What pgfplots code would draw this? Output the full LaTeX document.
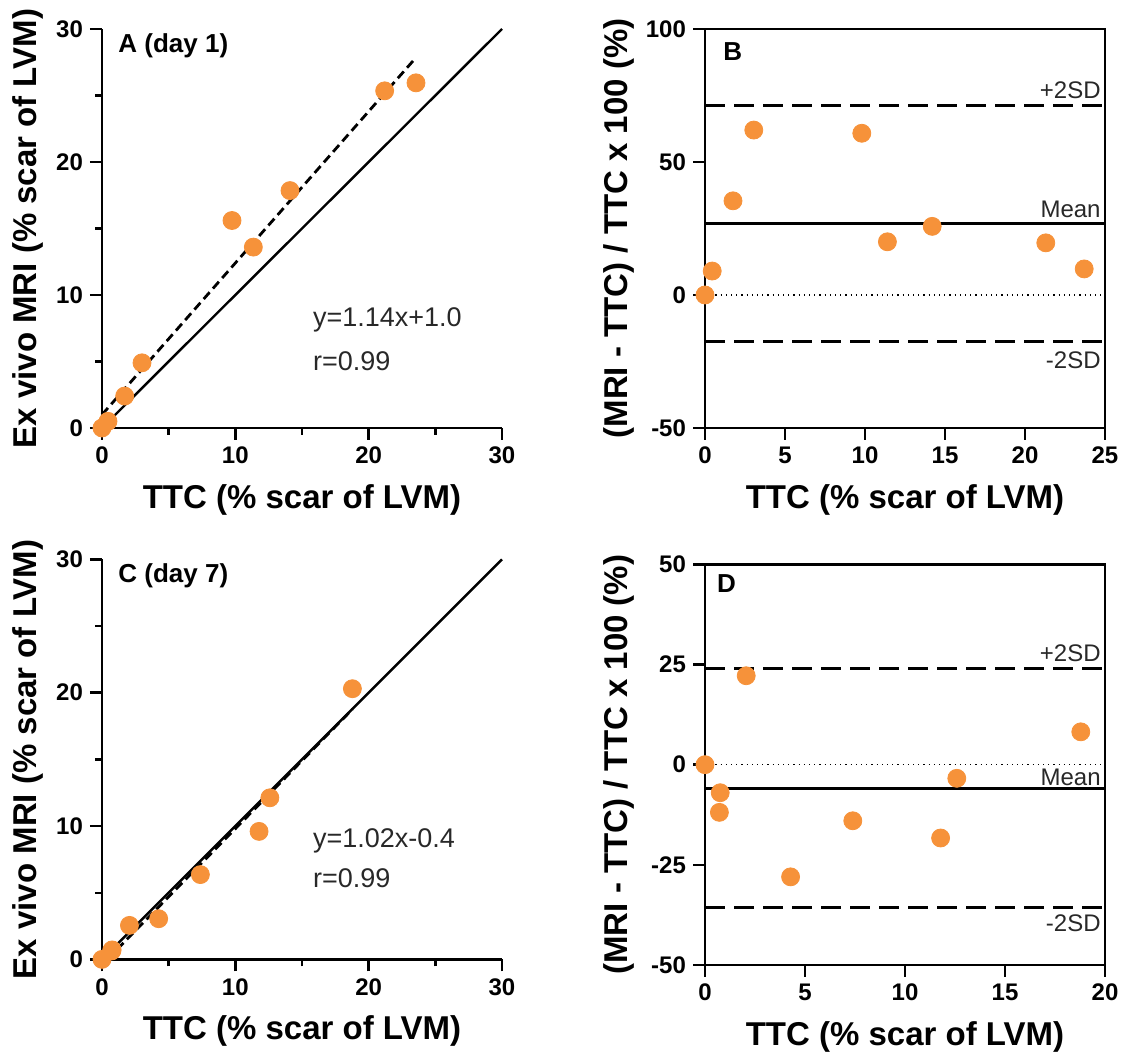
\documentclass[border=0pt]{standalone}
\usepackage{fontspec}
\setmainfont{Liberation Sans}
\usepackage{pgfplots}
\pgfplotsset{compat=1.18}
\definecolor{dotor}{RGB}{246,146,58}
\definecolor{txtg}{RGB}{40,40,40}

\tikzset{
  annot/.style={font=\fontsize{12}{14}\selectfont, text=txtg, inner sep=0pt},
  eq/.style={font=\fontsize{13.5}{16}\selectfont, text=txtg, inner sep=0pt, anchor=west},
  ttl/.style={font=\fontsize{13}{15}\selectfont\bfseries, inner sep=0pt, anchor=west},
}
\pgfplotsset{
  base/.style={
    scale only axis, width=200pt, height=199.5pt,
    anchor=south west, clip=false,
    tick align=outside,
    major tick length=6pt, minor tick length=3.5pt,
    every major tick/.append style={black, line width=1.3pt},
    every minor tick/.append style={black, line width=1.2pt},
    axis line style={line width=1.4pt, black},
    /pgf/number format/assume math mode=true,
    tick label style={font=\fontsize{12}{14}\selectfont\bfseries},
    label style={font=\fontsize{16.5}{19}\selectfont\bfseries},
    xlabel style={at={(axis description cs:0.5,-0.18)}, anchor=center},
  },
  scat/.style={base, axis lines*=left,
    xmin=0, xmax=30, ymin=0, ymax=30,
    xtick={0,10,20,30}, ytick={0,10,20,30},
    minor xtick={5,15,25}, minor ytick={5,15,25},
    xlabel={TTC (\% scar of LVM)},
    ylabel={Ex vivo MRI (\% scar of LVM)},
    ylabel style={at={(axis description cs:-0.185,0.5)}, anchor=center, rotate=0},
  },
  ba/.style={base, xtick pos=bottom, ytick pos=left,
    xlabel={TTC (\% scar of LVM)},
    ylabel={(MRI - TTC) / TTC x 100 (\%)},
    ylabel style={at={(axis description cs:-0.215,0.5)}, anchor=center, rotate=0},
  },
  pts/.style={only marks, mark=*, mark size=4.5pt, mark options={fill=dotor, draw=dotor}},
  lim/.style={black, line width=1.5pt, dash pattern=on 10pt off 4.5pt},
}

\begin{document}
\begin{tikzpicture}
% ---------------- A ----------------
\begin{axis}[scat, at={(51pt,317.5pt)}]
  \addplot[black, line width=1.2pt] coordinates {(0,0) (30,30)};
  \addplot[black, line width=1.4pt, dash pattern=on 4.5pt off 2.5pt] coordinates {(0,1.0) (23.4,27.68)};
  \addplot[pts] coordinates {
    (0,0) (0.45,0.5) (1.7,2.4) (3.0,4.9) (9.75,15.6) (11.35,13.6)
    (14.1,17.85) (21.2,25.35) (23.55,25.95)};
  \node[ttl] at (axis cs:1.2,28.75) {A (day 1)};
  \node[eq] at (axis cs:15.8,8.1) {y=1.14x+1.0};
  \node[eq] at (axis cs:15.8,5.0) {r=0.99};
\end{axis}
% ---------------- B ----------------
\begin{axis}[ba, at={(352.5pt,317.5pt)},
    xmin=0, xmax=25, ymin=-50, ymax=100,
    xtick={0,5,10,15,20,25}, ytick={-50,0,50,100}]
  \addplot[black, dotted, line width=0.6pt] coordinates {(0,0) (25,0)};
  \addplot[black, line width=1.3pt] coordinates {(0,26.8) (25,26.8)};
  \addplot[lim] coordinates {(0,71.1) (25,71.1)};
  \addplot[lim] coordinates {(0,-17.6) (25,-17.6)};
  \addplot[pts] coordinates {
    (0,0) (0.45,9.0) (1.75,35.4) (3.05,62.0) (9.8,60.8) (11.4,20.0)
    (14.2,25.8) (21.3,19.6) (23.7,9.8)};
  \node[ttl] at (axis cs:1.13,91.4) {B};
  \node[annot, anchor=east] at (axis cs:24.75,76.8) {+2SD};
  \node[annot, anchor=east] at (axis cs:24.75,32.3) {Mean};
  \node[annot, anchor=east] at (axis cs:24.75,-24.5) {-2SD};
\end{axis}
% ---------------- C ----------------
\begin{axis}[scat, at={(51pt,51.8pt)}, height=200pt]
  \addplot[black, line width=1.4pt, dash pattern=on 4.5pt off 2.5pt] coordinates {(0.4,0.008) (18.8,18.78)};
  \addplot[black, line width=1.2pt] coordinates {(0,0) (30,30)};
  \addplot[pts] coordinates {
    (0,0) (0.72,0.63) (0.76,0.71) (2.06,2.55) (4.25,3.05) (7.38,6.36)
    (11.78,9.6) (12.59,12.12) (18.78,20.3)};
  \node[ttl] at (axis cs:1.2,28.75) {C (day 7)};
  \node[eq] at (axis cs:15.8,8.9) {y=1.02x-0.4};
  \node[eq] at (axis cs:15.8,6.1) {r=0.99};
\end{axis}
% ---------------- D ----------------
\begin{axis}[ba, at={(352.5pt,49pt)}, height=200.3pt,
    xmin=0, xmax=20, ymin=-50, ymax=50,
    xtick={0,5,10,15,20}, ytick={-50,-25,0,25,50}]
  \addplot[black, dotted, line width=0.6pt] coordinates {(0,0) (20,0)};
  \addplot[black, line width=1.3pt] coordinates {(0,-5.9) (20,-5.9)};
  \addplot[lim] coordinates {(0,24.1) (20,24.1)};
  \addplot[lim] coordinates {(0,-35.6) (20,-35.6)};
  \addplot[pts] coordinates {
    (0,0) (0.76,-7.0) (0.72,-11.9) (2.06,22.2) (4.28,-28.0) (7.39,-14.0)
    (11.78,-18.3) (12.59,-3.4) (18.79,8.2)};
  \node[ttl] at (axis cs:0.59,45.1) {D};
  \node[annot, anchor=east] at (axis cs:19.8,27.7) {+2SD};
  \node[annot, anchor=east] at (axis cs:19.8,-3.2) {Mean};
  \node[annot, anchor=east] at (axis cs:19.8,-39.7) {-2SD};
\end{axis}
\pgfresetboundingbox
\path[use as bounding box] (0,0) rectangle (562.5pt,531.5pt);
\end{tikzpicture}
\end{document}
